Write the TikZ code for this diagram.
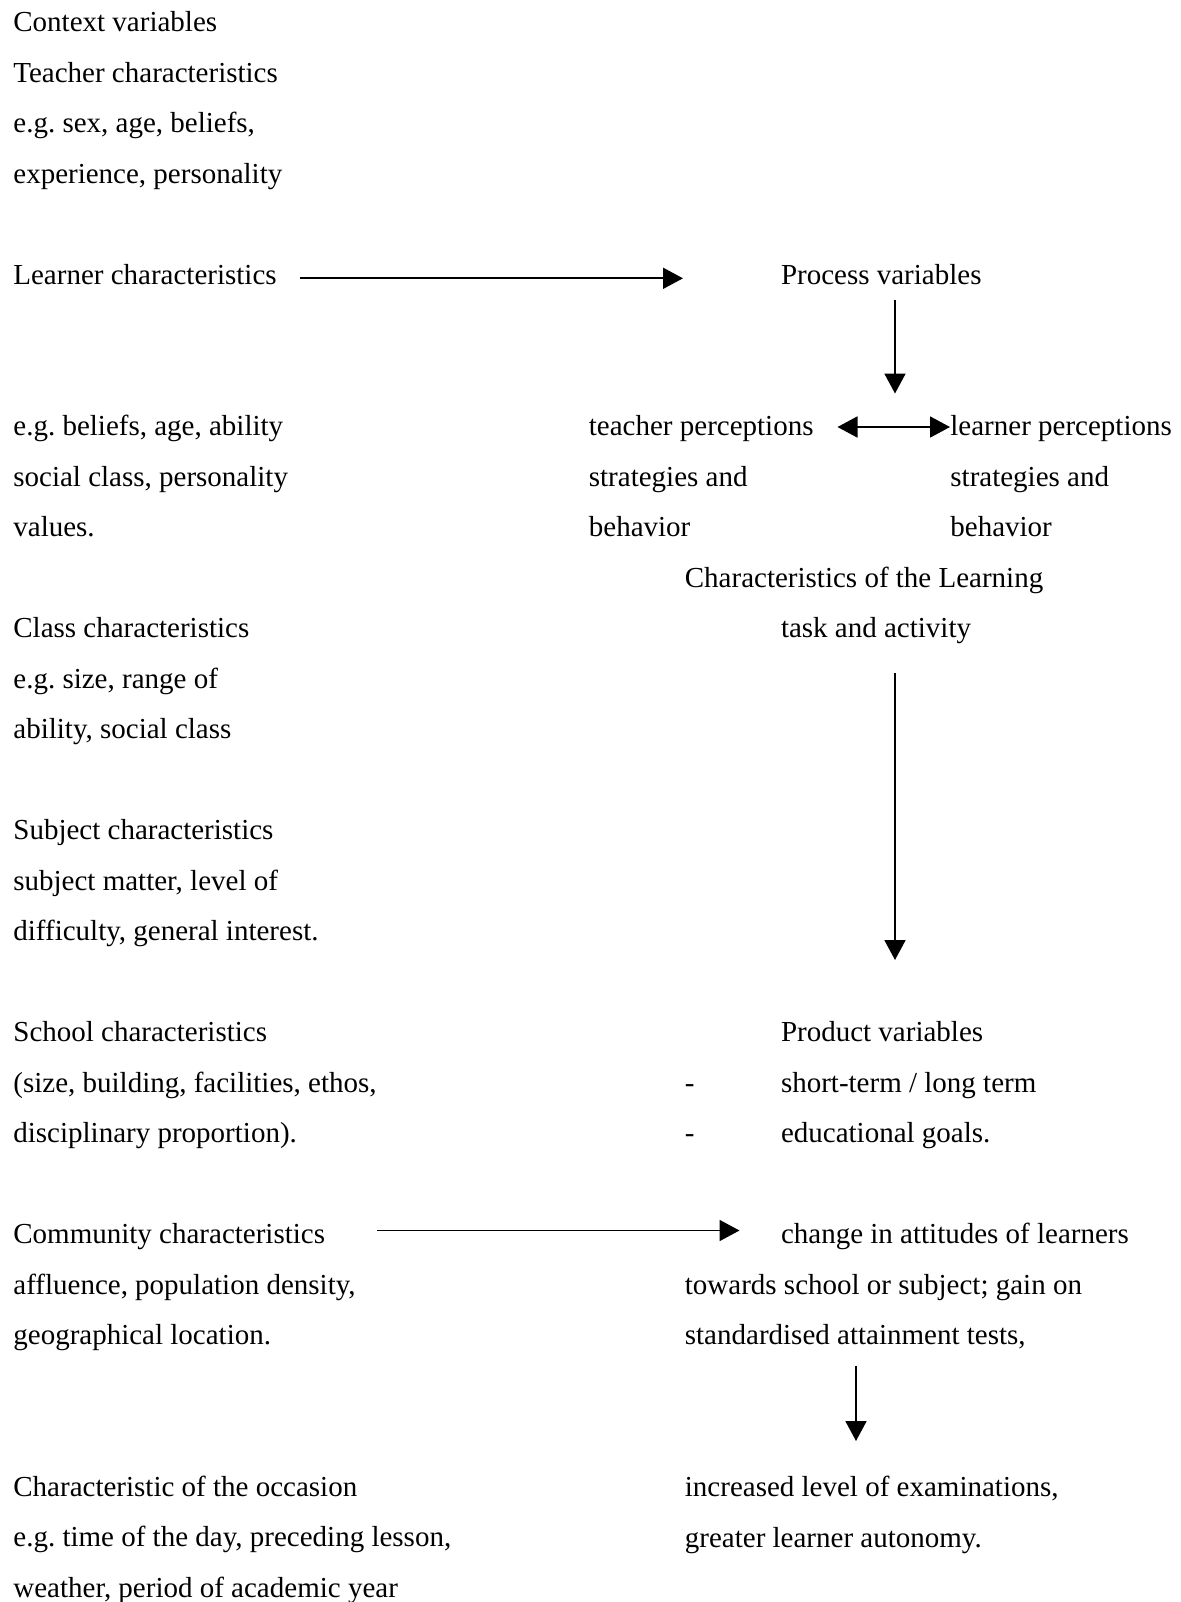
\documentclass[tikz,border=0pt]{standalone}
\usepackage{fontspec}
\setmainfont{Liberation Serif}
\usetikzlibrary{arrows.meta}
\usetikzlibrary{positioning}
\frenchspacing

\begin{document}
\begin{tikzpicture}[line cap=butt,line join=round,>={Triangle[length=10pt,width=10.5pt]},x=0.5pt,y=-0.5pt,
  txt/.style={anchor=base west,inner sep=0pt,align=left,font=\fontsize{14.5}{25.25}\selectfont},
  arr/.style={->,line width=0.9pt}]
\useasboundingbox (0,0) rectangle (1180,1602);
% left column: context variables (node placed at baseline of its last line)
\node[txt] (ctx) at (13,183.2) {Context variables\\Teacher characteristics\\e.g. sex, age, beliefs,\\experience, personality};
\node[txt] (learner) at (13,284.2) {Learner characteristics};
\node[txt] (learnereg) at (13,536.7) {e.g. beliefs, age, ability\\social class, personality\\values.};
\node[txt] (class) at (13,738.7) {Class characteristics\\e.g. size, range of\\ability, social class};
\node[txt] (subject) at (13,940.7) {Subject characteristics\\subject matter, level of\\difficulty, general interest.};
\node[txt] (school) at (13,1142.7) {School characteristics\\(size, building, facilities, ethos,\\disciplinary proportion).};
\node[txt] (community) at (13,1344.7) {Community characteristics\\affluence, population density,\\geographical location.};
\node[txt] (occasion) at (13,1597.2) {Characteristic of the occasion\\e.g. time of the day, preceding lesson,\\weather, period of academic year};
% right column: process and product
\node[txt] (process) at (780.6,284.2) {Process variables};
\node[txt] (teacherp) at (588.5,536.7) {teacher perceptions\\strategies and\\behavior};
\node[txt] (learnerp) at (950,536.7) {learner perceptions\\strategies and\\behavior};
\node[txt] (task) at (684.5,587.2) {Characteristics of the Learning};
\node[txt] (task2) at (780.6,637.7) {task and activity};
\node[txt] (product) at (780.6,1142.7) {Product variables\\short-term / long term\\educational goals.};
\node[txt] (dashes) at (684.5,1142.7) {-\\-};
\node[txt] (change) at (780.6,1243.7) {change in attitudes of learners};
\node[txt] (change2) at (684.5,1344.7) {towards school or subject; gain on\\standardised attainment tests,};
\node[txt] (increased) at (684.5,1547.2) {increased level of examinations,\\greater learner autonomy.};
% arrow ends
\coordinate (a1s) at (300,278.3);
\coordinate (a1e) at (683,278.3);
\coordinate (a2s) at (895,299.5);
\coordinate (a2e) at (895,393.5);
\coordinate (a3l) at (837.5,427);
\coordinate (a3r) at (950,427);
\coordinate (a4s) at (895,673);
\coordinate (a4e) at (895,960);
\coordinate (a5s) at (377,1230.5);
\coordinate (a5e) at (739.5,1230.5);
\coordinate (a6s) at (856,1365.5);
\coordinate (a6e) at (856,1441);
\draw[arr] (a1s) -- (a1e);
\draw[arr] (a2s) -- (a2e);
\draw[arr,<->] (a3l) -- (a3r);
\draw[arr] (a4s) -- (a4e);
\draw[arr] (a5s) -- (a5e);
\draw[arr] (a6s) -- (a6e);
\end{tikzpicture}
\end{document}
